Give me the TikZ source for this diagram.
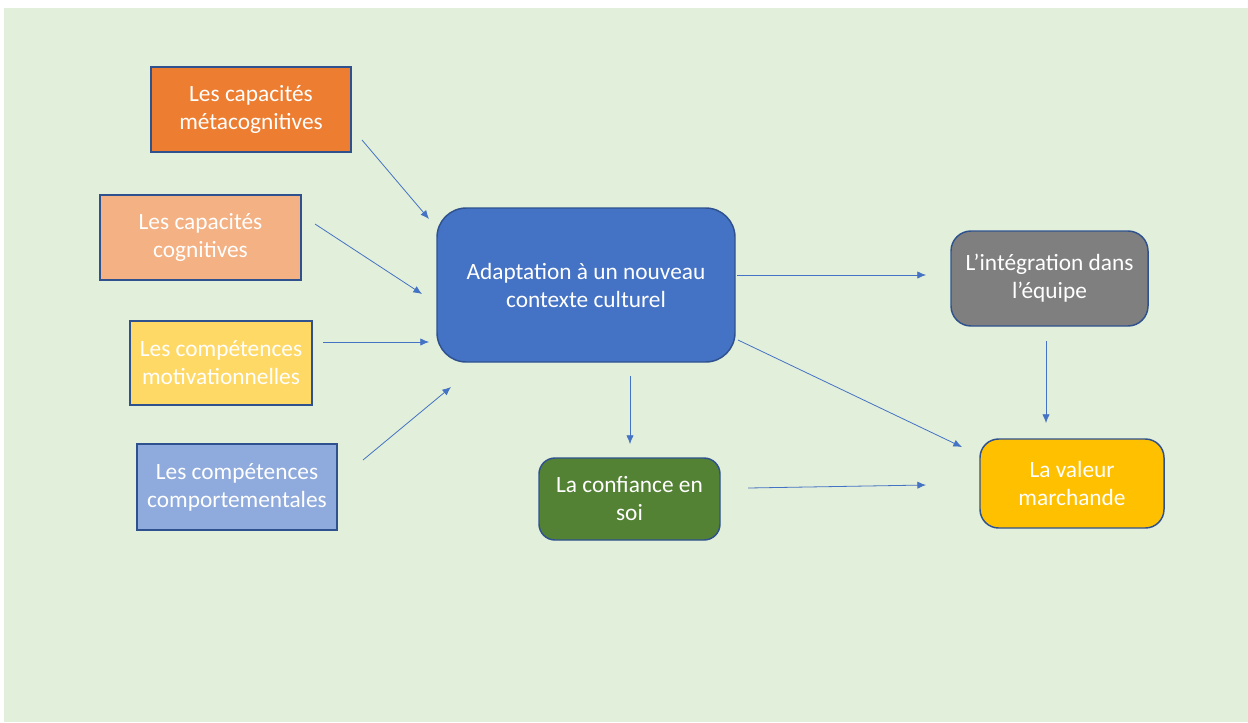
\documentclass[tikz,border=0pt]{standalone}
\usepackage{fontspec}
\setmainfont{Carlito}
\usetikzlibrary{arrows.meta}
\definecolor{bggreen}{HTML}{E2EFDA}
\definecolor{edgeblue}{HTML}{2F528F}
\definecolor{arrowblue}{HTML}{4472C4}
\definecolor{cOrange}{HTML}{ED7D31}
\definecolor{cPeach}{HTML}{F4B183}
\definecolor{cYellow}{HTML}{FFD966}
\definecolor{cLightBlue}{HTML}{8FAADC}
\definecolor{cBlue}{HTML}{4472C4}
\definecolor{cGrey}{HTML}{7F7F7F}
\definecolor{cGold}{HTML}{FFC000}
\definecolor{cGreen}{HTML}{548235}
\tikzset{
  box/.style={draw=edgeblue, line width=1.1pt, text=white, align=center,
    font=\fontsize{17.5}{21}\selectfont, inner sep=1pt},
  sqbox/.style={box, rectangle},
  rbox/.style={box, rectangle, rounded corners=#1},
  conn/.style={draw=arrowblue, line width=0.6pt, -{Latex[length=6.5pt,width=5.5pt]}}
}
\begin{document}
\begin{tikzpicture}[x=0.75pt,y=-0.75pt]
\useasboundingbox (0,0) rectangle (1248,722);
\fill[bggreen] (4,8) rectangle (1248,722);

\node[sqbox, fill=cOrange, minimum width=150pt, minimum height=63.75pt] (meta) at (251,109.5) {Les capacités\\métacognitives};
\node[sqbox, fill=cPeach, minimum width=150.75pt, minimum height=63.75pt] (cogn) at (200.5,237.5) {Les capacités\\cognitives};
\node[sqbox, fill=cYellow, minimum width=136.5pt, minimum height=63pt] (motiv) at (221,363) {Les compétences\\motivationnelles};
\node[sqbox, fill=cLightBlue, minimum width=150pt, minimum height=64.5pt] (comp) at (237,487) {Les compétences\\comportementales};
\node[rbox=22pt, fill=cBlue, minimum width=223.5pt, minimum height=115.5pt] (adapt) at (586,285) {Adaptation à un nouveau\\contexte culturel};
\node[rbox=15pt, fill=cGrey, minimum width=147.75pt, minimum height=71.25pt] (integ) at (1049.5,278.5) {L’intégration dans\\l’équipe};
\node[rbox=14pt, fill=cGold, minimum width=138pt, minimum height=66.75pt] (valeur) at (1072,483.5) {La valeur\\marchande};
\node[rbox=12pt, fill=cGreen, minimum width=135.75pt, minimum height=61.5pt] (conf) at (629.5,499) {La confiance en\\soi};

\coordinate (a1s) at (362,140);  \coordinate (a1e) at (429,219);
\coordinate (a2s) at (315,224);  \coordinate (a2e) at (422,294);
\coordinate (a3s) at (323,342);  \coordinate (a3e) at (429,342);
\coordinate (a4s) at (363,460);  \coordinate (a4e) at (451,387);
\coordinate (a5s) at (737,275);  \coordinate (a5e) at (926,275);
\coordinate (a6s) at (738,340);  \coordinate (a6e) at (962,447);
\coordinate (a7s) at (630,376);  \coordinate (a7e) at (630,444);
\coordinate (a8s) at (1046,341); \coordinate (a8e) at (1046,423);
\coordinate (a9s) at (748,488);  \coordinate (a9e) at (926,485);

\draw[conn] (a1s) -- (a1e);
\draw[conn] (a2s) -- (a2e);
\draw[conn] (a3s) -- (a3e);
\draw[conn] (a4s) -- (a4e);
\draw[conn] (a5s) -- (a5e);
\draw[conn] (a6s) -- (a6e);
\draw[conn] (a7s) -- (a7e);
\draw[conn] (a8s) -- (a8e);
\draw[conn] (a9s) -- (a9e);
\end{tikzpicture}
\end{document}
